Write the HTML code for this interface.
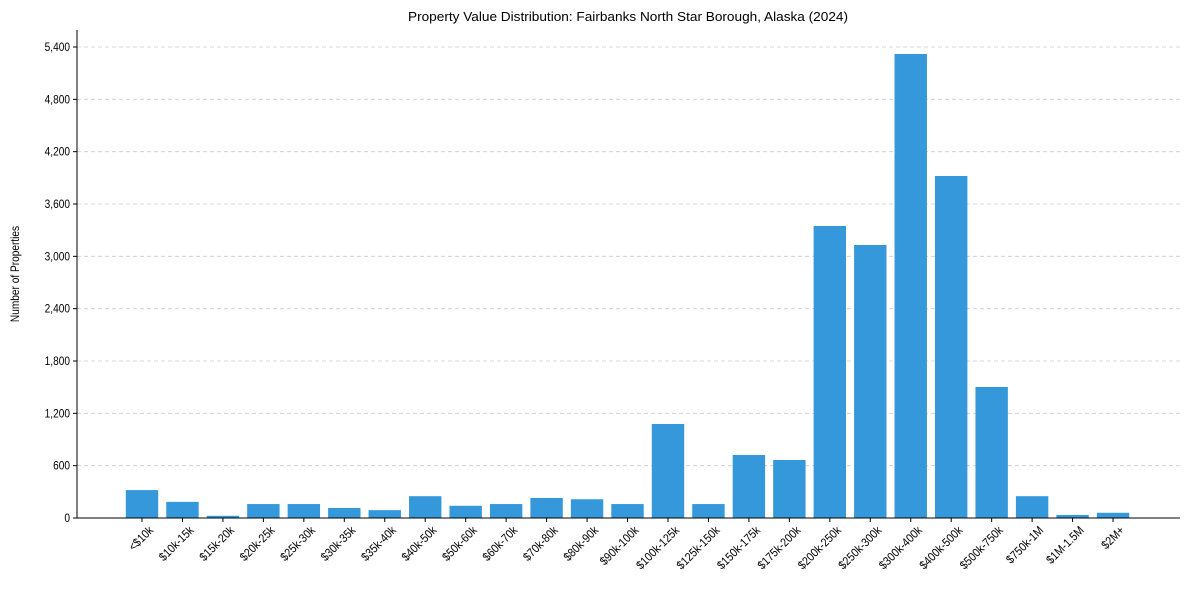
<!DOCTYPE html>
<html><head><meta charset="utf-8"><style>
body{margin:0;background:#fff;font-family:"Liberation Sans",Arial,sans-serif}
svg text{font-family:"Liberation Sans",Arial,sans-serif;fill:#000}
</style></head><body>
<svg id="chart" width="1190" height="590" xmlns="http://www.w3.org/2000/svg">
<text x="628" y="21" font-size="12.5" text-anchor="middle" textLength="440" lengthAdjust="spacingAndGlyphs">Property Value Distribution: Fairbanks North Star Borough, Alaska (2024)</text>
<text transform="translate(19,274) rotate(-90) scale(0.88,1)" font-size="11.5" text-anchor="middle">Number of Properties</text>
<g id="grid"></g><g id="bars"></g><g id="axes"></g>
</svg>
<script>
const categories=["<$10k","$10k-15k","$15k-20k","$20k-25k","$25k-30k","$30k-35k","$35k-40k","$40k-50k","$50k-60k","$60k-70k","$70k-80k","$80k-90k","$90k-100k","$100k-125k","$125k-150k","$150k-175k","$175k-200k","$200k-250k","$250k-300k","$300k-400k","$400k-500k","$500k-750k","$750k-1M","$1M-1.5M","$2M+"];
const values=[320,185,25,160,160,115,90,250,140,160,230,215,160,1078,160,722,665,3348,3130,5320,3921,1502,250,35,60];
const yTicks=[0,600,1200,1800,2400,3000,3600,4200,4800,5400];
const yTickLabels=["0","600","1,200","1,800","2,400","3,000","3,600","4,200","4,800","5,400"];
const NS="http://www.w3.org/2000/svg";
const L=77,R=1180,B=518,T=30;
const y=v=>B-v*(471/5400);
const step=40.46;
const x=i=>142+i*step;
const bw=32.4;
function mk(t,a,p){const e=document.createElementNS(NS,t);for(const k in a)e.setAttribute(k,a[k]);p.appendChild(e);return e;}
const grid=document.getElementById('grid'),bars=document.getElementById('bars'),axes=document.getElementById('axes');
yTicks.forEach((v,i)=>{
 if(v>0){const g=mk('line',{x1:L,x2:R,y1:y(v),y2:y(v),stroke:'#cccccc','stroke-dasharray':'4,3','stroke-width':0.8},grid);
 
 }
 const tk=mk('line',{x1:L-4,x2:L,y1:y(v),y2:y(v),stroke:'#000'},axes);
 
 
 const t=mk('text',{transform:`translate(${L-7},${y(v)+4}) scale(0.88,1)`,'font-size':11.5,'text-anchor':'end'},axes);t.textContent=yTickLabels[i];
 
 
});
values.forEach((v,i)=>{
 const r=mk('rect',{x:x(i)-bw/2,y:y(v),width:bw,height:B-y(v),fill:'#3498db'},bars);
 
 
 const tk=mk('line',{x1:x(i),x2:x(i),y1:B,y2:B+4,stroke:'#000'},axes);
 
 
 const t=mk('text',{transform:`translate(${x(i)+12},${B+13}) rotate(-45) scale(0.88,1)`,'font-size':12,'text-anchor':'end'},axes);t.textContent=categories[i];
 
 
});
const ya=mk('line',{x1:L,x2:L,y1:T,y2:B,stroke:'#000'},axes);


const xa=mk('line',{x1:L,x2:R,y1:B,y2:B,stroke:'#000'},axes);


</script>
</body></html>
